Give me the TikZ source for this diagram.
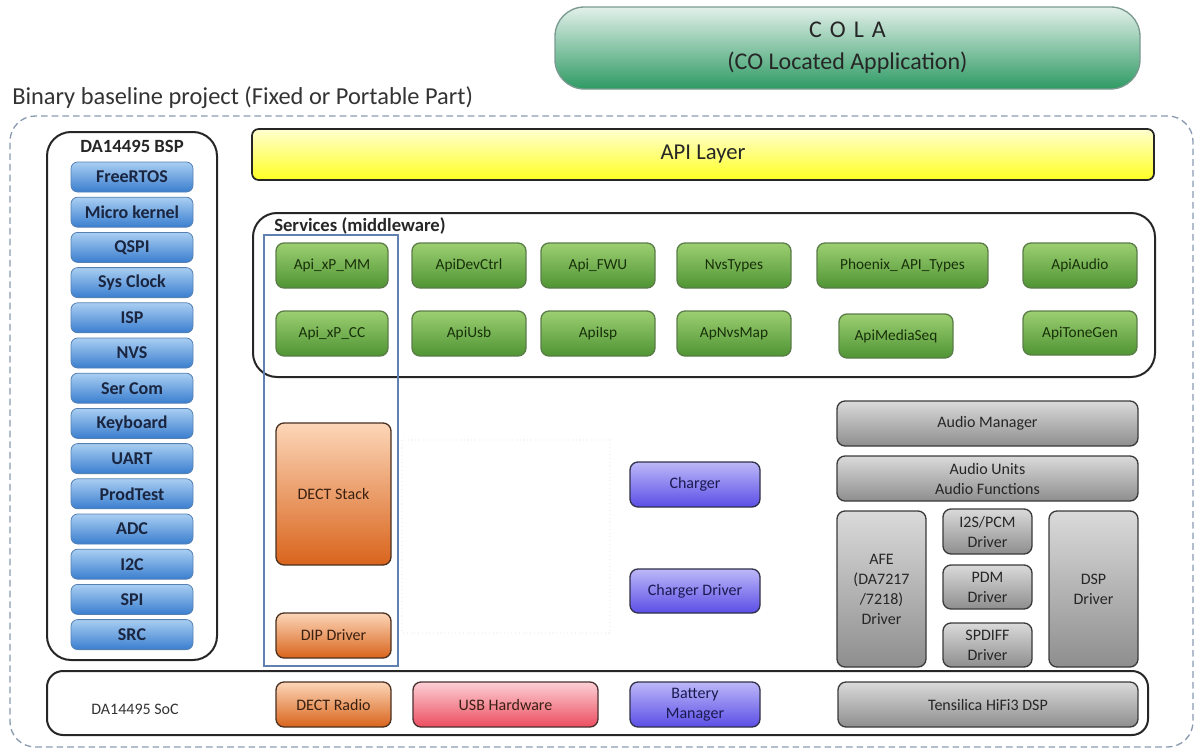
\documentclass[tikz,border=0pt]{standalone}
\usepackage{fontspec}
\setmainfont{Carlito}
\definecolor{colaTop}{HTML}{E2F0EA}
\definecolor{colaBot}{HTML}{2E9A63}
\definecolor{colaBorder}{HTML}{7A9A90}
\definecolor{apiTop}{HTML}{FFFFD0}
\definecolor{apiBot}{HTML}{FFFF22}
\definecolor{grnTop}{HTML}{9CCF72}
\definecolor{grnBot}{HTML}{4F9433}
\definecolor{grnBorder}{HTML}{5A7D48}
\definecolor{grnText}{HTML}{18300A}
\definecolor{bluTop}{HTML}{A9CEF2}
\definecolor{bluBot}{HTML}{3A7ECF}
\definecolor{bluBorder}{HTML}{5580B0}
\definecolor{bluText}{HTML}{1A2540}
\definecolor{orgTop}{HTML}{FCD6B8}
\definecolor{orgBot}{HTML}{D9641C}
\definecolor{orgBorder}{HTML}{4A3020}
\definecolor{orgText}{HTML}{3A2010}
\definecolor{redTop}{HTML}{FCD0D6}
\definecolor{redBot}{HTML}{EC4D60}
\definecolor{redBorder}{HTML}{4A3030}
\definecolor{purTop}{HTML}{BDB8F8}
\definecolor{purBot}{HTML}{5B4EE6}
\definecolor{purBorder}{HTML}{30304A}
\definecolor{purText}{HTML}{1A1A50}
\definecolor{gryTop}{HTML}{DADADA}
\definecolor{gryBot}{HTML}{8E8E8E}
\definecolor{gryBorder}{HTML}{3A3A3A}
\definecolor{gryText}{HTML}{262626}
\definecolor{frameCol}{HTML}{8A9BB0}
\definecolor{thinBlue}{HTML}{6080B0}
\newcommand\mybox[7]{\node[#1, minimum width={(#5-#3)*0.75pt}, minimum height={(#6-#4)*0.75pt}] (#2) at ({(#3+#5)/2},{(#4+#6)/2}) {#7};}
\begin{document}
\begin{tikzpicture}[x=0.75pt,y=-0.75pt,
  box/.style={rectangle, rounded corners=6pt, inner sep=0pt, outer sep=0pt, align=center, line width=1pt, font=\fontsize{12}{15}\selectfont},
  grn/.style={box, top color=grnTop, bottom color=grnBot, draw=grnBorder, text=grnText, font=\fontsize{11.5}{14}\selectfont},
  blu/.style={box, rounded corners=5pt, top color=bluTop, bottom color=bluBot, draw=bluBorder, line width=0.6pt, text=bluText, font=\fontsize{13.5}{15}\selectfont\bfseries},
  org/.style={box, top color=orgTop, bottom color=orgBot, draw=orgBorder, text=orgText},
  red/.style={box, top color=redTop, bottom color=redBot, draw=redBorder, text=orgText},
  pur/.style={box, top color=purTop, bottom color=purBot, draw=purBorder, text=purText},
  gry/.style={box, top color=gryTop, bottom color=gryBot, draw=gryBorder, text=gryText},
  container/.style={rectangle, rounded corners=18pt, draw=black!85, line width=1.5pt, inner sep=0pt, outer sep=0pt},
]
\useasboundingbox (0,0) rectangle (1197,753);

% outer dashed frame
\node[rectangle, rounded corners=19pt, draw=frameCol, dash pattern=on 5pt off 3pt, line width=1pt, minimum width={(1193-10)*0.75pt}, minimum height={(747-116)*0.75pt}] (frame) at ({(10+1193)/2},{(116+747)/2}) {};

% COLA
\node[rectangle, rounded corners=22pt, top color=colaTop, bottom color=colaBot, draw=colaBorder, line width=1pt, minimum width={(1140-555)*0.75pt}, minimum height={(89-7)*0.75pt}, align=center, text=black!85, font=\fontsize{18}{24}\selectfont] (cola) at ({(555+1140)/2},48) {C\,\,O\,\,L\,\,A\\(CO Located Application)};

% title
\node[anchor=base west, inner sep=0pt, text=black!80, font=\fontsize{18.3}{20}\selectfont] (title) at (12,104) {Binary baseline project (Fixed or Portable Part)};

% API layer
\node[rectangle, rounded corners=5pt, top color=apiTop, bottom color=apiBot, draw=black!85, line width=1.3pt, minimum width={(1154-252)*0.75pt}, minimum height={(180-129)*0.75pt}, text=black!85, font=\fontsize{17}{20}\selectfont] (api) at ({(252+1154)/2},{(129+180)/2}) {API Layer};

% BSP
\mybox{container}{bsp}{47}{132}{217}{660}{}
\node[font=\fontsize{14}{16}\selectfont\bfseries, text=black!85] (bsptitle) at (132,146) {DA14495 BSP};
\foreach \t [count=\i from 0] in {FreeRTOS,Micro kernel,QSPI,Sys Clock,ISP,NVS,Ser Com,Keyboard,UART,ProdTest,ADC,I2C,SPI,SRC}{
  \node[blu, minimum width={122*0.75pt}, minimum height={30*0.75pt}] (bsp\i) at (132,{177+35.2*\i}) {\t};
}

% Services
\mybox{container}{services}{253}{213}{1155}{377}{}
\node[anchor=base west, inner sep=0pt, font=\fontsize{14}{16}\selectfont\bfseries, text=black!85] (servtitle) at (274,231) {Services (middleware)};
\draw[thinBlue, line width=0.8pt] (264,235) rectangle (398,666);

\mybox{grn}{mm}{276}{243}{388}{288}{Api\_xP\_MM}
\mybox{grn}{devctrl}{412}{243}{526}{288}{ApiDevCtrl}
\mybox{grn}{fwu}{541}{243}{655}{288}{Api\_FWU}
\mybox{grn}{nvstypes}{677}{243}{791}{288}{NvsTypes}
\mybox{grn}{phoenix}{817}{243}{988}{288}{Phoenix\_ API\_Types}
\mybox{grn}{audio}{1023}{243}{1137}{288}{ApiAudio}
\mybox{grn}{cc}{276}{311}{388}{356}{Api\_xP\_CC}
\mybox{grn}{usb}{412}{311}{526}{356}{ApiUsb}
\mybox{grn}{isp}{541}{311}{655}{356}{ApiIsp}
\mybox{grn}{nvsmap}{677}{311}{791}{356}{ApNvsMap}
\mybox{grn}{mediaseq}{839}{314}{953}{358}{ApiMediaSeq}
\mybox{grn}{tonegen}{1023}{311}{1137}{355}{ApiToneGen}

% faint placeholder
\draw[black!4, dotted, line width=0.8pt] (402,440) rectangle (610,633);

% DECT side
\mybox{org}{dectstack}{276}{423}{391}{565}{DECT Stack}
\mybox{org}{dip}{276}{613}{391}{658}{DIP Driver}

% charger
\mybox{pur}{charger}{630}{462}{760}{507}{Charger}
\mybox{pur}{chargerdrv}{630}{569}{760}{613}{Charger Driver}

% audio
\mybox{gry}{audiomgr}{837}{401}{1138}{446}{Audio Manager}
\mybox{gry}{audiounits}{837}{456}{1138}{501}{Audio Units\\Audio Functions}
\mybox{gry}{afe}{837}{511}{926}{667}{AFE\\(DA7217\\/7218)\\Driver}
\mybox{gry}{i2s}{943}{509}{1032}{554}{I2S/PCM\\Driver}
\mybox{gry}{pdm}{943}{565}{1032}{609}{PDM\\Driver}
\mybox{gry}{spdiff}{943}{623}{1032}{667}{SPDIFF\\Driver}
\mybox{gry}{dspdrv}{1049}{511}{1138}{667}{DSP\\Driver}

% SoC
\node[rectangle, rounded corners=12pt, draw=black!85, line width=1.5pt, minimum width={(1148-47)*0.75pt}, minimum height={(735-671)*0.75pt}] (soc) at ({(47+1148)/2},{(671+735)/2}) {};
\node[font=\fontsize{12}{14}\selectfont, text=black!80] (soclabel) at (135,709) {DA14495 SoC};
\mybox{org}{dectradio}{276}{682}{391}{727}{DECT Radio}
\mybox{red}{usbhw}{413}{682}{598}{727}{USB Hardware}
\mybox{pur}{battery}{630}{682}{760}{727}{Battery\\Manager}
\mybox{gry}{tensilica}{838}{682}{1138}{727}{Tensilica HiFi3 DSP}
\end{tikzpicture}
\end{document}
